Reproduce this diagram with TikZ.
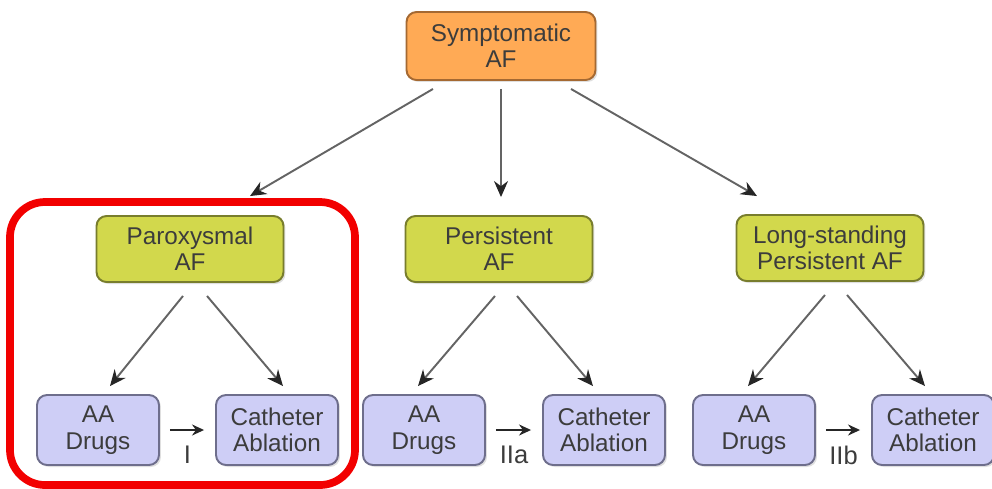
\documentclass[tikz,border=0pt]{standalone}
\usepackage{fontspec}
\setmainfont{Liberation Sans}
\usepackage{xcolor}
\usepackage{tikz}
\usetikzlibrary{calc}
\usetikzlibrary{arrows.meta,shadows}

\definecolor{symfill}{RGB}{255,170,85}
\definecolor{symdraw}{RGB}{165,105,50}
\definecolor{typefill}{RGB}{210,216,76}
\definecolor{typedraw}{RGB}{120,125,45}
\definecolor{treatfill}{RGB}{206,206,246}
\definecolor{treatdraw}{RGB}{110,110,140}
\definecolor{conngray}{RGB}{100,100,100}
\definecolor{txtgray}{RGB}{60,60,60}

\tikzset{
  afbox/.style={rounded corners=0.2cm,line width=1.1pt,align=center,text=txtgray,
    font=\fontsize{13.8}{15}\selectfont,inner sep=0pt,
    drop shadow={shadow xshift=0.04cm,shadow yshift=-0.04cm,opacity=0.25}},
  topbox/.style={afbox,fill=symfill,draw=symdraw,minimum width=3.78cm,minimum height=1.36cm},
  typebox/.style={afbox,fill=typefill,draw=typedraw,minimum width=3.74cm,minimum height=1.32cm},
  treatbox/.style={afbox,fill=treatfill,draw=treatdraw,minimum width=2.44cm,minimum height=1.4cm},
  conn/.style={draw=conngray,line width=1.1pt,-{Stealth[length=0.32cm,width=0.28cm,color=black!85]}},
  steparrow/.style={draw=black!85,line width=1.1pt,-{Stealth[length=0.24cm,width=0.22cm]},shorten <=0.2cm,shorten >=0.22cm},
  classlbl/.style={text=txtgray,font=\fontsize{14.5}{15}\selectfont,inner sep=0pt}
}

\begin{document}
\begin{tikzpicture}[x=0.02cm,y=-0.02cm]
  \useasboundingbox (0,0) rectangle (992,488);
  % highlight round the paroxysmal branch
  \draw[line width=4.4pt,red!95!black,rounded corners=0.7cm] (10,202) rectangle (355,485);

  \node[topbox] (sym) at (501,46) {Symptomatic\\AF};
  \node[typebox] (par) at (190,249) {Paroxysmal\\AF};
  \node[typebox] (per) at (499,249) {Persistent\\AF};
  \node[typebox] (lon) at (830,248) {Long-standing\\Persistent AF};

  \node[treatbox] (aa1) at (98,430) {AA\\Drugs};
  \node[treatbox] (cat1) at (277,430) {Catheter\\Ablation};
  \node[treatbox] (aa2) at (424,430) {AA\\Drugs};
  \node[treatbox] (cat2) at (604,430) {Catheter\\Ablation};
  \node[treatbox] (aa3) at (754,430) {AA\\Drugs};
  \node[treatbox] (cat3) at (933,430) {Catheter\\Ablation};

  \draw[conn] ($(sym.south)+(-68,8)$) -- ($(par.north)+(60,-19)$);
  \draw[conn] ($(sym.south)+(0,8)$) -- ($(per.north)+(2,-18)$);
  \draw[conn] ($(sym.south)+(70,8)$) -- ($(lon.north)+(-73,-18)$);

  \draw[conn] ($(par.south)+(-7,13)$) -- ($(aa1.north)+(12,-8)$);
  \draw[conn] ($(par.south)+(17,13)$) -- ($(cat1.north)+(6,-8)$);
  \draw[conn] ($(per.south)+(-4,13)$) -- ($(aa2.north)+(-6,-8)$);
  \draw[conn] ($(per.south)+(18,13)$) -- ($(cat2.north)+(-11,-8)$);
  \draw[conn] ($(lon.south)+(-5,13)$) -- ($(aa3.north)+(-6,-8)$);
  \draw[conn] ($(lon.south)+(17,13)$) -- ($(cat3.north)+(-8,-8)$);

  \draw[steparrow] (aa1) -- node[classlbl,below=0.3cm]{I} (cat1);
  \draw[steparrow] (aa2) -- node[classlbl,below=0.3cm]{IIa} (cat2);
  \draw[steparrow] (aa3) -- node[classlbl,below=0.3cm]{IIb} (cat3);
\end{tikzpicture}
\end{document}
